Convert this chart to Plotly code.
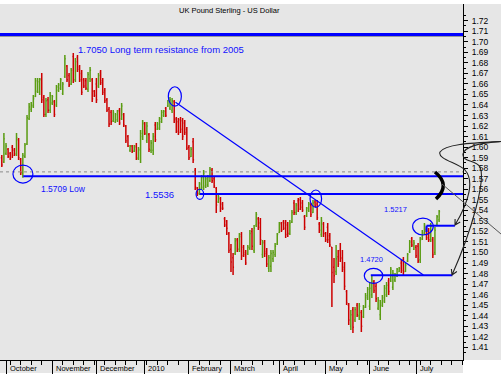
import plotly.graph_objects as go

# ---------------- data (GBP/USD daily bars, trading-day index from 1 Oct 2009) ----------------
day = list(range(-2, 207))

open_ = [
    1.590, 1.586, 1.594, 1.598, 1.594, 1.600, 1.597, 1.594, 1.607, 1.588,
    1.575, 1.591, 1.603, 1.627, 1.636, 1.639, 1.648, 1.653, 1.652, 1.665,
    1.647, 1.631, 1.645, 1.635, 1.642, 1.643, 1.640, 1.654, 1.656, 1.651,
    1.667, 1.677, 1.668, 1.660, 1.686, 1.664, 1.685, 1.676, 1.670, 1.664,
    1.663, 1.655, 1.665, 1.664, 1.653, 1.660, 1.658, 1.671, 1.663, 1.654,
    1.645, 1.636, 1.633, 1.625, 1.624, 1.626, 1.635, 1.627, 1.631, 1.620,
    1.610, 1.597, 1.601, 1.596, 1.601, 1.589, 1.597, 1.610, 1.622, 1.606,
    1.612, 1.597, 1.597, 1.621, 1.617, 1.618, 1.624, 1.630, 1.637, 1.639,
    1.637, 1.635, 1.643, 1.627, 1.624, 1.626, 1.625, 1.623, 1.617, 1.600,
    1.591, 1.605, 1.578, 1.561, 1.556, 1.561, 1.562, 1.563, 1.564, 1.568,
    1.578, 1.570, 1.561, 1.548, 1.551, 1.546, 1.532, 1.530, 1.518, 1.503,
    1.495, 1.499, 1.512, 1.503, 1.517, 1.505, 1.500, 1.499, 1.504, 1.520,
    1.502, 1.526, 1.532, 1.528, 1.498, 1.510, 1.501, 1.485, 1.487, 1.494,
    1.498, 1.508, 1.519, 1.528, 1.529, 1.528, 1.526, 1.518, 1.529, 1.547,
    1.538, 1.549, 1.550, 1.547, 1.534, 1.535, 1.540, 1.545, 1.538, 1.548,
    1.546, 1.527, 1.517, 1.527, 1.518, 1.524, 1.516, 1.505, 1.486, 1.482,
    1.496, 1.502, 1.495, 1.486, 1.463, 1.450, 1.430, 1.446, 1.436, 1.450,
    1.440, 1.443, 1.439, 1.448, 1.457, 1.449, 1.460, 1.472, 1.468, 1.447,
    1.441, 1.450, 1.454, 1.460, 1.473, 1.474, 1.467, 1.474, 1.478, 1.482,
    1.490, 1.493, 1.482, 1.492, 1.501, 1.513, 1.503, 1.505, 1.506, 1.493,
    1.513, 1.518, 1.522, 1.520, 1.512, 1.512, 1.500, 1.527, 1.531,
]
high = [
    1.5925, 1.6134, 1.6039, 1.5992, 1.5954, 1.6020, 1.5992, 1.6134, 1.6086, 1.5897,
    1.5944, 1.6039, 1.6305, 1.6419, 1.6428, 1.6494, 1.6656, 1.6656, 1.6656, 1.6703,
    1.6494, 1.6466, 1.6475, 1.6523, 1.6494, 1.6447, 1.6589, 1.6608, 1.6656, 1.6618,
    1.6874, 1.6779, 1.6703, 1.6751, 1.6893, 1.6846, 1.6874, 1.6779, 1.6732, 1.6656,
    1.6656, 1.6713, 1.6760, 1.6656, 1.6542, 1.6656, 1.6703, 1.6732, 1.6656, 1.6561,
    1.6466, 1.6381, 1.6352, 1.6352, 1.6324, 1.6352, 1.6371, 1.6419, 1.6324, 1.6210,
    1.6115, 1.6020, 1.6020, 1.6020, 1.6039, 1.6001, 1.6162, 1.6257, 1.6238, 1.6238,
    1.6134, 1.6068, 1.6134, 1.6238, 1.6238, 1.6286, 1.6352, 1.6352, 1.6381, 1.6447,
    1.6476, 1.6466, 1.6447, 1.6286, 1.6276, 1.6286, 1.6276, 1.6257, 1.6191, 1.6020,
    1.6001, 1.6086, 1.5802, 1.5622, 1.5669, 1.5735, 1.5783, 1.5716, 1.5735, 1.5811,
    1.5802, 1.5716, 1.5622, 1.5546, 1.5527, 1.5479, 1.5337, 1.5308, 1.5194, 1.5080,
    1.4995, 1.5137, 1.5137, 1.5185, 1.5194, 1.5071, 1.5023, 1.5071, 1.5213, 1.5232,
    1.5261, 1.5384, 1.5337, 1.5327, 1.5118, 1.5118, 1.5042, 1.4976, 1.5023, 1.5023,
    1.5090, 1.5185, 1.5289, 1.5289, 1.5308, 1.5308, 1.5289, 1.5308, 1.5403, 1.5498,
    1.5470, 1.5517, 1.5527, 1.5498, 1.5356, 1.5432, 1.5479, 1.5470, 1.5498, 1.5498,
    1.5498, 1.5289, 1.5337, 1.5289, 1.5194, 1.5280, 1.5185, 1.5052, 1.4948, 1.5071,
    1.5023, 1.5090, 1.5023, 1.4910, 1.4644, 1.4521, 1.4454, 1.4483, 1.4483, 1.4521,
    1.4521, 1.4454, 1.4501, 1.4615, 1.4672, 1.4719, 1.4776, 1.4739, 1.4710, 1.4577,
    1.4549, 1.4596, 1.4691, 1.4719, 1.4758, 1.4862, 1.4834, 1.4805, 1.4853, 1.4862,
    1.4929, 1.4957, 1.4900, 1.4995, 1.5118, 1.5147, 1.5118, 1.5071, 1.5090, 1.5147,
    1.5213, 1.5280, 1.5242, 1.5232, 1.5280, 1.5147, 1.5242, 1.5356, 1.5403,
]
low = [
    1.5811, 1.5850, 1.5925, 1.5897, 1.5878, 1.5897, 1.5916, 1.5916, 1.5878, 1.5735,
    1.5709, 1.5897, 1.6020, 1.6257, 1.6333, 1.6371, 1.6475, 1.6513, 1.6494, 1.6419,
    1.6286, 1.6286, 1.6324, 1.6324, 1.6400, 1.6286, 1.6381, 1.6523, 1.6542, 1.6494,
    1.6656, 1.6618, 1.6570, 1.6589, 1.6608, 1.6618, 1.6713, 1.6618, 1.6494, 1.6561,
    1.6542, 1.6523, 1.6618, 1.6428, 1.6475, 1.6419, 1.6561, 1.6589, 1.6494, 1.6419,
    1.6333, 1.6191, 1.6210, 1.6238, 1.6229, 1.6238, 1.6210, 1.6257, 1.6191, 1.6039,
    1.6001, 1.5954, 1.5944, 1.5954, 1.5878, 1.5878, 1.5849, 1.6068, 1.6115, 1.6039,
    1.5954, 1.5944, 1.5925, 1.6049, 1.6162, 1.6162, 1.6229, 1.6286, 1.6286, 1.6381,
    1.6352, 1.6324, 1.6229, 1.6134, 1.6115, 1.6134, 1.6068, 1.6115, 1.5973, 1.5878,
    1.5906, 1.5849, 1.5593, 1.5536, 1.5546, 1.5593, 1.5593, 1.5612, 1.5622, 1.5669,
    1.5660, 1.5612, 1.5375, 1.5470, 1.5384, 1.5403, 1.5242, 1.5166, 1.4995, 1.4815,
    1.4786, 1.4976, 1.5005, 1.5005, 1.4929, 1.4957, 1.4881, 1.4976, 1.5023, 1.5023,
    1.4995, 1.5242, 1.5213, 1.5071, 1.4948, 1.4957, 1.4862, 1.4815, 1.4815, 1.4910,
    1.4957, 1.5071, 1.5185, 1.5194, 1.5213, 1.5137, 1.5147, 1.5166, 1.5280, 1.5356,
    1.5356, 1.5384, 1.5403, 1.5384, 1.5213, 1.5337, 1.5384, 1.5337, 1.5375, 1.5432,
    1.5308, 1.5185, 1.5147, 1.5147, 1.5099, 1.5090, 1.5052, 1.4483, 1.4710, 1.4786,
    1.4862, 1.4910, 1.4815, 1.4644, 1.4501, 1.4312, 1.4264, 1.4236, 1.4340, 1.4388,
    1.4359, 1.4245, 1.4378, 1.4473, 1.4549, 1.4454, 1.4568, 1.4615, 1.4530, 1.4454,
    1.4359, 1.4483, 1.4521, 1.4577, 1.4596, 1.4720, 1.4644, 1.4720, 1.4767, 1.4815,
    1.4805, 1.4786, 1.4815, 1.4910, 1.4995, 1.5052, 1.5023, 1.4948, 1.4900, 1.4900,
    1.5118, 1.5166, 1.5118, 1.5099, 1.5099, 1.4948, 1.4976, 1.5261, 1.5290,
]
close = [
    1.583, 1.608, 1.601, 1.591, 1.589, 1.592, 1.593, 1.609, 1.590, 1.576,
    1.592, 1.602, 1.628, 1.638, 1.640, 1.646, 1.663, 1.662, 1.664, 1.645,
    1.631, 1.644, 1.635, 1.649, 1.648, 1.631, 1.657, 1.659, 1.664, 1.660,
    1.684, 1.664, 1.659, 1.673, 1.664, 1.681, 1.674, 1.664, 1.652, 1.658,
    1.656, 1.669, 1.673, 1.646, 1.649, 1.645, 1.668, 1.661, 1.652, 1.644,
    1.635, 1.622, 1.624, 1.633, 1.631, 1.634, 1.623, 1.639, 1.621, 1.606,
    1.601, 1.601, 1.596, 1.600, 1.590, 1.598, 1.613, 1.623, 1.613, 1.620,
    1.598, 1.604, 1.610, 1.607, 1.622, 1.627, 1.633, 1.634, 1.630, 1.644,
    1.645, 1.644, 1.626, 1.615, 1.614, 1.617, 1.610, 1.614, 1.599, 1.590,
    1.598, 1.588, 1.562, 1.556, 1.565, 1.571, 1.575, 1.570, 1.572, 1.579,
    1.568, 1.563, 1.545, 1.553, 1.542, 1.542, 1.526, 1.523, 1.502, 1.491,
    1.486, 1.511, 1.503, 1.515, 1.497, 1.498, 1.490, 1.505, 1.518, 1.506,
    1.523, 1.536, 1.524, 1.512, 1.509, 1.499, 1.489, 1.495, 1.499, 1.500,
    1.506, 1.517, 1.527, 1.521, 1.523, 1.517, 1.518, 1.528, 1.538, 1.538,
    1.545, 1.541, 1.543, 1.540, 1.524, 1.542, 1.546, 1.536, 1.547, 1.544,
    1.533, 1.521, 1.530, 1.518, 1.512, 1.512, 1.507, 1.481, 1.478, 1.494,
    1.489, 1.494, 1.484, 1.468, 1.452, 1.436, 1.441, 1.429, 1.446, 1.441,
    1.449, 1.430, 1.448, 1.459, 1.465, 1.466, 1.473, 1.464, 1.456, 1.455,
    1.452, 1.457, 1.466, 1.469, 1.463, 1.484, 1.480, 1.479, 1.484, 1.485,
    1.483, 1.482, 1.488, 1.498, 1.510, 1.507, 1.509, 1.497, 1.492, 1.512,
    1.519, 1.526, 1.514, 1.512, 1.525, 1.498, 1.521, 1.534, 1.539,
]

month_days = [0, 22, 43, 66, 87, 107, 130, 152, 173, 195]
month_labels = ["October", "November", "December", "2010", "February",
                "March", "April", "May", "June", "July"]
monday_days = [2 + 5 * k for k in range(44)]
price_ticks = [round(1.41 + 0.01 * k, 2) for k in range(32)]
price_minor = [round(1.405 + 0.01 * k, 3) for k in range(33)]

# annotated levels
resist_2005 = 1.7069
low_1_5709 = 1.5724
low_1_5536 = 1.5555
level_1_4720 = 1.4785
level_1_5217 = 1.5254
dashed_level = 1.5765
trend_days = [80.6, 198.5]
trend_prices = [1.6425, 1.4786]

# ---------------- styling / layout ----------------
BLUE = "#0000ff"
GRAY_BG = "#e6e6e6"
FONT = "Liberation Sans, Arial, sans-serif"
PLOT_W, PLOT_TOP, PLOT_BOT = 463, 4, 360
PLOT_H = PLOT_BOT - PLOT_TOP


def pp(x, y):
    return f"{x / PLOT_W:.5f},{(PLOT_BOT - y) / PLOT_H:.5f}"


fig = go.Figure()
fig.add_trace(go.Ohlc(
    x=day, open=open_, high=high, low=low, close=close,
    increasing=dict(line=dict(color="#5a9c12", width=1.5)),
    decreasing=dict(line=dict(color="#cc0000", width=1.5)),
    tickwidth=0.45, hoverinfo="skip", showlegend=False,
))

shapes = []
# gray panels around the plot (axis areas)
shapes.append(dict(type="rect", xref="paper", yref="paper", x0=1, x1=501 / PLOT_W, y0=0, y1=1,
                   fillcolor=GRAY_BG, line=dict(width=0), layer="below"))
shapes.append(dict(type="rect", xref="paper", yref="paper", x0=0, x1=1, y0=-13 / PLOT_H, y1=0,
                   fillcolor=GRAY_BG, line=dict(width=0), layer="below"))

# long-term resistance
shapes.append(dict(type="line", xref="paper", yref="y", x0=0, x1=1, y0=resist_2005 - 0.0017,
                   y1=resist_2005 - 0.0017, line=dict(color="#9a9a9a", width=1.3)))
shapes.append(dict(type="line", xref="paper", yref="y", x0=0, x1=1, y0=resist_2005, y1=resist_2005,
                   line=dict(color=BLUE, width=3)))
# dashed
shapes.append(dict(type="line", xref="paper", yref="y", x0=0, x1=1, y0=dashed_level, y1=dashed_level,
                   line=dict(color="#8a8a8a", width=1, dash="3px,3px")))
# horizontal support/resistance lines
shapes.append(dict(type="line", xref="x", yref="y", x0=8.2, x1=217.35, y0=low_1_5709, y1=low_1_5709,
                   line=dict(color=BLUE, width=2)))
shapes.append(dict(type="line", xref="x", yref="y", x0=92.2, x1=217.35, y0=low_1_5536, y1=low_1_5536,
                   line=dict(color=BLUE, width=2)))
shapes.append(dict(type="line", xref="x", yref="y", x0=173.5, x1=212.3, y0=level_1_4720, y1=level_1_4720,
                   line=dict(color=BLUE, width=2)))
shapes.append(dict(type="line", xref="x", yref="y", x0=200.0, x1=213.5, y0=level_1_5217, y1=level_1_5217,
                   line=dict(color=BLUE, width=2)))
shapes.append(dict(type="line", xref="x", yref="y", x0=200.0, x1=200.0, y0=level_1_5217, y1=level_1_5217 - 0.006,
                   line=dict(color=BLUE, width=2)))
# trend line
shapes.append(dict(type="line", xref="x", yref="y", x0=trend_days[0], x1=trend_days[1],
                   y0=trend_prices[0], y1=trend_prices[1], line=dict(color=BLUE, width=1.2)))
# circles
for (a, b, c, d) in [(3.3, 12.8, 1.5659, 1.5830), (77.2, 83.4, 1.6390, 1.6573),
                     (90.4, 94.0, 1.5505, 1.5600), (144.6, 150.1, 1.5429, 1.5593),
                     (170.4, 179.2, 1.4707, 1.4850), (193.4, 203.2, 1.5166, 1.5327)]:
    shapes.append(dict(type="circle", xref="x", yref="y", x0=a, x1=b, y0=c, y1=d,
                       line=dict(color=BLUE, width=1.2)))

# hand-drawn black marks (paper coordinates)
shapes.append(dict(type="path", xref="paper", yref="paper",
                   path=f"M {pp(435, 172)} Q {pp(451, 185)} {pp(436, 199)}",
                   line=dict(color="black", width=3.5)))
shapes.append(dict(type="path", xref="paper", yref="paper",
                   path=f"M {pp(442, 184)} L {pp(501, 234)}",
                   line=dict(color="#555555", width=1)))
curve1 = (f"M {pp(501, 141.5)} C {pp(470, 143)} {pp(445, 144)} {pp(440, 152)} "
          f"C {pp(437, 159)} {pp(458, 163)} {pp(465, 170)} "
          f"C {pp(474, 180)} {pp(470, 200)} {pp(455, 225)} "
          f"M {pp(460.2, 222.1)} L {pp(455, 225)} L {pp(455.1, 219)}")
curve2 = (f"M {pp(501, 141.5)} C {pp(480, 143)} {pp(465, 146)} {pp(463, 154)} "
          f"C {pp(462, 162)} {pp(476, 160)} {pp(480, 167)} "
          f"C {pp(486, 180)} {pp(472, 230)} {pp(452, 275)} "
          f"M {pp(456.9, 271.5)} L {pp(452, 275)} L {pp(451.4, 269)}")
for c in (curve1, curve2):
    shapes.append(dict(type="path", xref="paper", yref="paper", path=c,
                       line=dict(color="#222222", width=1.1)))

annotations = []
annotations.append(dict(text="UK Pound Sterling - US Dollar", xref="paper", yref="paper",
                        x=0.495, y=(PLOT_BOT - 10) / PLOT_H, showarrow=False,
                        xanchor="center", yanchor="middle",
                        font=dict(family=FONT, size=7.5, color="black")))
for (txt, xi, yp, sz) in [("1.7050 Long term resistance from 2005", 33.2, 1.6931, 9.5),
                          ("1.5709 Low", 15.9, 1.5602, 8.5),
                          ("1.5536", 65.3, 1.5546, 9.5),
                          ("1.5217", 178.7, 1.5410, 7.5),
                          ("1.4720", 167.3, 1.4935, 7.5)]:
    annotations.append(dict(text=txt, x=xi, y=yp, xref="x", yref="y", showarrow=False,
                            xanchor="left", yanchor="middle",
                            font=dict(family=FONT, size=sz, color="#1010ff")))
for d, lab in zip(month_days, month_labels):
    annotations.append(dict(text=lab, x=d, y=(PLOT_BOT - 368) / PLOT_H, xref="x", yref="paper",
                            xshift=1.5, showarrow=False, xanchor="left", yanchor="middle",
                            font=dict(family=FONT, size=7.5, color="black")))

fig.update_layout(
    width=501, height=384,
    margin=dict(l=0, r=501 - PLOT_W, t=PLOT_TOP, b=384 - PLOT_BOT, pad=0),
    paper_bgcolor="white", plot_bgcolor=GRAY_BG,
    shapes=shapes, annotations=annotations, showlegend=False,
    xaxis=dict(range=[-2.854, 217.35], rangeslider=dict(visible=False),
               tickmode="array", tickvals=month_days, showticklabels=False,
               ticks="outside", ticklen=13, tickcolor="black", tickwidth=1,
               minor=dict(tickmode="array", tickvals=monday_days, ticks="outside",
                          ticklen=4, tickcolor="black", tickwidth=1),
               showline=True, linecolor="black", linewidth=1,
               showgrid=False, zeroline=False, automargin=False, fixedrange=True),
    yaxis=dict(range=[1.39795, 1.73585], side="right",
               tickmode="array", tickvals=price_ticks, tickformat=".2f",
               ticks="outside", ticklen=4, tickcolor="black", tickwidth=1,
               minor=dict(tickmode="array", tickvals=price_minor, ticks="outside",
                          ticklen=2, tickcolor="black", tickwidth=1),
               tickfont=dict(family=FONT, size=8.5, color="black"),
               ticklabelstandoff=2,
               showline=True, linecolor="black", linewidth=1,
               showgrid=False, zeroline=False, automargin=False, fixedrange=True),
)

fig.write_html("out.html", config={"displayModeBar": False},
               post_script="document.body.style.margin='0';document.body.style.padding='0';")
